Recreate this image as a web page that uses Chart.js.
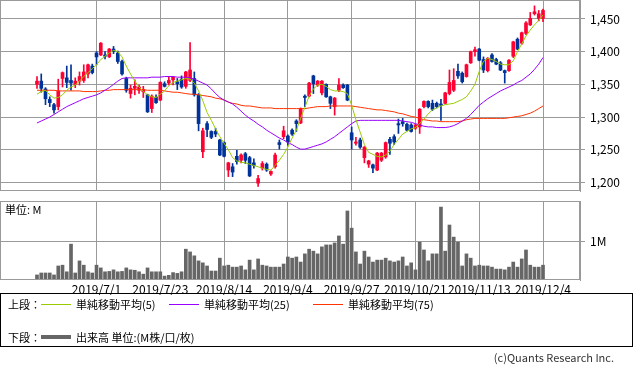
<!DOCTYPE html>
<html><head><meta charset="utf-8">
<script src="https://cdn.jsdelivr.net/npm/chart.js@4/dist/chart.umd.min.js"></script>
<style>
body{margin:0;background:#fff;width:633px;height:371px;overflow:hidden;position:relative;font-family:"Noto Sans CJK JP","Noto Sans",sans-serif;color:#000;}
canvas{position:absolute;left:0;}
#c1{top:0;}
#c2{top:195px;}
.t{position:absolute;font-size:11px;line-height:12px;white-space:nowrap;}
.ln{position:absolute;height:1px;width:30px;}
#leg{position:absolute;left:0;top:293px;width:631px;height:52px;border:1px solid #000;}
</style></head>
<body>
<canvas id="c1" width="633" height="192"></canvas>
<canvas id="c2" width="633" height="100"></canvas>
<div class="t" style="left:5px;top:203px;font-size:11px;">単位: M</div>
<div id="leg">
  <div class="t" style="left:7px;top:4px;">上段：</div>
  <div class="ln" style="left:40px;top:10px;background:#99cc00;"></div>
  <div class="t" style="left:75px;top:4px;">単純移動平均(5)</div>
  <div class="ln" style="left:168px;top:10px;background:#9900ff;"></div>
  <div class="t" style="left:203px;top:4px;">単純移動平均(25)</div>
  <div class="ln" style="left:312px;top:10px;background:#ff3300;"></div>
  <div class="t" style="left:347px;top:4px;">単純移動平均(75)</div>
  <div class="t" style="left:7px;top:37px;">下段：</div>
  <div class="ln" style="left:40px;top:41px;height:4px;background:#666;"></div>
  <div class="t" style="left:75px;top:37px;">出来高 単位:(M株/口/枚)</div>
</div>
<div class="t" style="right:19px;top:351px;font-size:11px;color:#333;">(c)Quants Research Inc.</div>
<script>
const dates = [
 "2019/6/11","2019/6/12","2019/6/13","2019/6/14","2019/6/17","2019/6/18","2019/6/19","2019/6/20","2019/6/21","2019/6/24","2019/6/25","2019/6/26","2019/6/27","2019/6/28",
 "2019/7/1","2019/7/2","2019/7/3","2019/7/4","2019/7/5","2019/7/8","2019/7/9","2019/7/10","2019/7/11","2019/7/12","2019/7/16","2019/7/17","2019/7/18","2019/7/19","2019/7/22","2019/7/23","2019/7/24","2019/7/25","2019/7/26","2019/7/29","2019/7/30","2019/7/31",
 "2019/8/1","2019/8/2","2019/8/5","2019/8/6","2019/8/7","2019/8/8","2019/8/9","2019/8/13","2019/8/14","2019/8/15","2019/8/16","2019/8/19","2019/8/20","2019/8/21","2019/8/22","2019/8/23","2019/8/26","2019/8/27","2019/8/28","2019/8/29","2019/8/30",
 "2019/9/2","2019/9/3","2019/9/4","2019/9/5","2019/9/6","2019/9/9","2019/9/10","2019/9/11","2019/9/12","2019/9/13","2019/9/17","2019/9/18","2019/9/19","2019/9/20","2019/9/24","2019/9/25","2019/9/26","2019/9/27","2019/9/30",
 "2019/10/1","2019/10/2","2019/10/3","2019/10/4","2019/10/7","2019/10/8","2019/10/9","2019/10/10","2019/10/11","2019/10/15","2019/10/16","2019/10/17","2019/10/18","2019/10/21","2019/10/23","2019/10/24","2019/10/25","2019/10/28","2019/10/29","2019/10/30","2019/10/31",
 "2019/11/1","2019/11/5","2019/11/6","2019/11/7","2019/11/8","2019/11/11","2019/11/12","2019/11/13","2019/11/14","2019/11/15","2019/11/18","2019/11/19","2019/11/20","2019/11/21","2019/11/22","2019/11/25","2019/11/26","2019/11/27","2019/11/28","2019/11/29",
 "2019/12/2","2019/12/3","2019/12/4"];
const dateTicks = ["2019/7/1","2019/7/23","2019/8/14","2019/9/4","2019/9/27","2019/10/21","2019/11/13","2019/12/4"];
const priceTicks = [1200,1250,1300,1350,1400,1450];
const volumeTicks = [1];

const openP = [1350,1355,1343,1327,1319,1316,1359,1360,1356,1350,
 1355,1356,1366,1378,1398,1395,1395,1392,1404,1398,
 1385,1359,1336,1344,1341,1339,1334,1313,1330,1326,
 1351,1352,1357,1354,1358,1347,1356,1359,1334,1247,
 1290,1278,1278,1265,1261,1219,1224,1240,1234,1244,
 1238,1230,1199,1222,1228,1213,1224,1261,1270,1271,
 1280,1294,1291,1332,1332,1363,1349,1337,1350,1331,
 1316,1341,1349,1349,1276,1260,1265,1238,1228,1227,
 1219,1234,1239,1266,1270,1290,1293,1289,1288,1283,
 1285,1316,1324,1321,1321,1320,1321,1336,1341,1370,
 1367,1362,1383,1400,1404,1388,1371,1395,1388,1383,
 1371,1371,1393,1419,1413,1428,1441,1458,1451,1451];
const highP = [1362,1366,1345,1331,1321,1358,1369,1378,1380,1360,
 1369,1380,1381,1381,1400,1414,1400,1405,1408,1401,
 1387,1361,1349,1357,1349,1347,1335,1334,1334,1354,
 1354,1362,1362,1359,1363,1370,1414,1369,1336,1283,
 1293,1279,1283,1266,1262,1231,1229,1249,1244,1246,
 1240,1236,1211,1232,1230,1218,1245,1265,1286,1273,
 1282,1296,1314,1334,1353,1364,1356,1356,1351,1332,
 1330,1359,1351,1350,1285,1269,1268,1255,1234,1228,
 1246,1246,1262,1269,1273,1297,1298,1291,1290,1289,
 1313,1325,1325,1326,1323,1327,1338,1372,1374,1381,
 1369,1381,1401,1407,1405,1392,1391,1397,1390,1385,
 1372,1388,1416,1421,1430,1446,1460,1470,1463,1465];
const lowP = [1344,1338,1319,1316,1306,1311,1346,1345,1341,1345,
 1349,1353,1360,1366,1380,1394,1389,1391,1397,1382,
 1364,1338,1329,1334,1336,1330,1307,1307,1321,1325,
 1346,1349,1349,1342,1344,1344,1354,1332,1279,1238,
 1270,1267,1270,1241,1239,1209,1209,1228,1230,1229,
 1209,1222,1194,1219,1217,1211,1222,1251,1267,1257,
 1272,1278,1290,1316,1331,1336,1347,1334,1330,1313,
 1303,1339,1344,1325,1251,1257,1252,1230,1223,1215,
 1218,1232,1237,1243,1258,1275,1286,1279,1277,1281,
 1275,1314,1314,1310,1314,1295,1320,1334,1339,1359,
 1352,1361,1382,1393,1386,1368,1369,1384,1380,1371,
 1352,1370,1391,1403,1411,1426,1440,1456,1447,1446];
const closeP = [1355,1344,1328,1322,1311,1340,1368,1353,1352,1355,
 1362,1369,1380,1368,1392,1413,1393,1404,1400,1385,
 1366,1341,1344,1347,1346,1342,1308,1332,1322,1353,
 1347,1356,1361,1351,1346,1369,1372,1334,1290,1279,
 1281,1269,1274,1242,1240,1230,1216,1232,1242,1234,
 1210,1226,1206,1229,1219,1217,1242,1258,1279,1262,
 1274,1290,1313,1330,1352,1351,1355,1355,1331,1321,
 1329,1349,1345,1326,1265,1262,1254,1254,1233,1222,
 1245,1245,1261,1260,1262,1288,1290,1280,1278,1288,
 1312,1324,1316,1312,1316,1318,1337,1353,1356,1363,
 1354,1380,1400,1403,1387,1372,1390,1385,1381,1372,
 1368,1387,1415,1404,1429,1444,1451,1461,1458,1463];
const ma5 = [1335,1339,1341,1334,1329,1330,1334,1341,1346,1349,
 1355,1362,1368,1374,1380,1388,1393,1398,1402,1400,
 1392,1378,1366,1355,1346,1339,1334,1331,1330,1335,
 1340,1348,1353,1355,1357,1359,1358,1352,1340,1325,
 1307,1295,1282,1270,1260,1250,1238,1233,1231,1230,
 1228,1226,1224,1222,1220,1219,1226,1234,1243,1254,
 1268,1280,1298,1315,1332,1343,1349,1350,1347,1342,
 1340,1340,1339,1336,1318,1296,1277,1258,1246,1243,
 1240,1239,1242,1248,1258,1266,1274,1278,1282,1284,
 1290,1297,1305,1311,1314,1317,1319,1320,1321,1324,
 1327,1331,1340,1350,1370,1385,1390,1388,1385,1381,
 1380,1380,1386,1400,1412,1424,1433,1441,1448,1456];
const ma25 = [1291,1294,1297,1300,1304,1308,1312,1316,1319,1322,
 1325,1328,1330,1332,1334,1337,1341,1345,1350,1355,
 1359,1360,1360,1360,1360,1360,1360,1361,1361,1361,
 1362,1362,1362,1361,1361,1361,1360,1358,1355,1352,
 1349,1343,1336,1330,1326,1323,1320,1315,1309,1303,
 1298,1294,1289,1285,1280,1276,1272,1268,1265,1261,
 1258,1254,1251,1251,1253,1255,1257,1259,1262,1266,
 1270,1275,1280,1285,1290,1294,1295,1295,1295,1295,
 1295,1295,1295,1295,1295,1295,1294,1293,1292,1290,
 1288,1286,1285,1285,1284,1284,1284,1285,1287,1290,
 1294,1298,1304,1311,1318,1323,1328,1332,1336,1340,
 1343,1346,1349,1353,1356,1361,1366,1373,1381,1391];
const ma75 = [1341,1341,1341,1341,1341,1340,1340,1340,1340,1340,
 1340,1339,1339,1339,1339,1340,1341,1341,1342,1342,
 1342,1342,1342,1342,1342,1342,1341,1341,1341,1341,
 1340,1339,1338,1338,1337,1336,1335,1335,1334,1333,
 1332,1331,1329,1328,1326,1323,1321,1320,1318,1317,
 1317,1316,1315,1314,1314,1314,1313,1313,1313,1313,
 1313,1313,1313,1313,1314,1315,1316,1316,1316,1317,
 1317,1317,1317,1317,1317,1316,1315,1314,1313,1312,
 1311,1311,1310,1309,1308,1306,1305,1303,1301,1300,
 1298,1296,1295,1294,1294,1293,1293,1293,1293,1293,
 1294,1296,1297,1298,1298,1298,1298,1298,1298,1298,
 1298,1299,1300,1301,1302,1304,1306,1309,1313,1317];
const volume = [0.13,0.18,0.18,0.18,0.13,0.36,0.38,0.21,0.92,0.18,
 0.49,0.38,0.21,0.18,0.38,0.31,0.21,0.22,0.26,0.21,
 0.22,0.31,0.26,0.25,0.21,0.15,0.31,0.21,0.21,0.21,
 0.10,0.12,0.19,0.17,0.21,0.79,0.72,0.62,0.49,0.44,
 0.36,0.23,0.23,0.56,0.36,0.38,0.33,0.33,0.36,0.26,
 0.51,0.26,0.54,0.38,0.36,0.33,0.33,0.33,0.41,0.59,
 0.56,0.59,0.46,0.67,0.79,0.74,0.67,0.85,0.90,0.90,
 0.95,1.13,0.92,1.77,1.33,0.72,0.41,0.74,0.59,0.46,
 0.51,0.51,0.56,0.49,0.46,0.49,0.59,0.36,0.44,0.26,
 0.97,0.77,0.49,0.67,0.67,1.87,0.74,1.41,1.10,0.97,
 0.36,0.67,0.56,0.36,0.38,0.36,0.36,0.33,0.28,0.28,
 0.26,0.33,0.46,0.33,0.54,0.77,0.38,0.33,0.33,0.38];

const RED = '#ff0033', BLUE = '#003399', GRID = '#9a9a9a';
const FONT = '"Noto Sans CJK JP","Noto Sans",sans-serif';
const idx = dates.map((d, i) => i);
const tickIdx = dateTicks.map(d => dates.indexOf(d));
const candleColor = idx.map(i => closeP[i] >= openP[i] ? RED : BLUE);
const X_MIN = -8.7, X_MAX = 127.7;

const frame = {
  id: 'frame',
  afterDraw(chart) {
    const {ctx, chartArea: a} = chart;
    ctx.save();
    ctx.strokeStyle = GRID; ctx.lineWidth = 1;
    ctx.strokeRect(Math.round(a.left) + 0.5, Math.round(a.top) + 0.5, Math.round(a.right - a.left) - 1, Math.round(a.bottom - a.top) - 1);
    ctx.restore();
  }
};
const noPad = s => { s.paddingTop = 0; s.paddingBottom = 0; s.paddingLeft = 0; s.paddingRight = 0; };
const lineDs = (arr, color) => ({
  type: 'line', data: idx.map(i => ({x: i, y: arr[i]})), borderColor: color,
  borderWidth: 1, pointRadius: 0, tension: 0, order: 0
});

new Chart(document.getElementById('c1'), {
  type: 'bar',
  data: {datasets: [
    lineDs(ma5, '#99cc00'),
    lineDs(ma25, '#9900ff'),
    lineDs(ma75, '#ff3300'),
    {type: 'bar', data: idx.map(i => ({x: i, y: [lowP[i], highP[i]]})),
     backgroundColor: candleColor, barThickness: 1, grouped: false, order: 2},
    {type: 'bar', data: idx.map(i => ({x: i, y: [Math.min(openP[i], closeP[i]), Math.max(openP[i], closeP[i])]})),
     backgroundColor: candleColor, barThickness: 3, grouped: false, minBarLength: 1, order: 1}
  ]},
  options: {
    responsive: false, animation: false, events: [],
    layout: {padding: 0},
    plugins: {legend: {display: false}, tooltip: {enabled: false}},
    scales: {
      x: {type: 'linear', min: X_MIN, max: X_MAX, offset: false,
          grid: {color: GRID, drawTicks: false, offset: false}, border: {display: false},
          ticks: {display: false},
          afterBuildTicks: s => { s.ticks = tickIdx.map(v => ({value: v})); },
          afterFit: s => { s.height = 1; noPad(s); }},
      y: {position: 'right', min: 1187, max: 1479, beginAtZero: false,
          grid: {color: GRID, tickLength: 5, offset: false}, border: {color: GRID},
          ticks: {color: '#000', font: {size: 12, family: FONT}, padding: 5,
                  callback: v => v.toLocaleString('en-US')},
          afterBuildTicks: s => { s.ticks = priceTicks.map(v => ({value: v})); },
          afterFit: s => { s.width = 53; noPad(s); }}
    }
  },
  plugins: [frame]
});

new Chart(document.getElementById('c2'), {
  type: 'bar',
  data: {datasets: [
    {data: idx.map(i => ({x: i, y: volume[i]})), backgroundColor: '#666666',
     barThickness: 3, grouped: false}
  ]},
  options: {
    responsive: false, animation: false, events: [],
    layout: {padding: {top: 6}},
    plugins: {legend: {display: false}, tooltip: {enabled: false}},
    scales: {
      x: {type: 'linear', min: X_MIN, max: X_MAX, offset: false,
          grid: {color: GRID, drawTicks: false, offset: false}, border: {display: false},
          ticks: {color: '#000', font: {size: 12, family: FONT}, padding: 2,
                  maxRotation: 0, autoSkip: false, callback: v => dates[v]},
          afterBuildTicks: s => { s.ticks = tickIdx.map(v => ({value: v})); },
          afterFit: s => { s.height = 15; noPad(s); }},
      y: {position: 'right', min: 0, max: 2.026, beginAtZero: true,
          grid: {color: GRID, tickLength: 5, offset: false}, border: {color: GRID},
          ticks: {color: '#000', font: {size: 12, family: FONT}, padding: 5,
                  callback: v => v + 'M'},
          afterBuildTicks: s => { s.ticks = volumeTicks.map(v => ({value: v})); },
          afterFit: s => { s.width = 53; noPad(s); }}
    }
  },
  plugins: [frame]
});
</script>
</body></html>
